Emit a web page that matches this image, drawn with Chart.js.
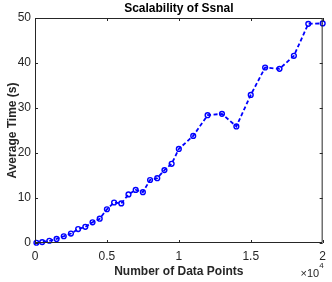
<!DOCTYPE html>
<html>
<head>
<meta charset="utf-8">
<script src="https://cdn.jsdelivr.net/npm/chart.js@4"></script>
<style>
  html, body { margin: 0; padding: 0; background: #fff; }
  #wrap { width: 332px; height: 282px; }
</style>
</head>
<body>
<div id="wrap"><canvas id="myChart" width="332" height="282"></canvas></div>
<script>
// data
const dataPoints = [100, 500, 1000, 1500, 2000, 2500, 3000, 3500, 4000, 4500, 5000,
  5500, 6000, 6500, 7000, 7500, 8000, 8500, 9000, 9500, 10000,
  11000, 12000, 13000, 14000, 15000, 16000, 17000, 18000, 19000, 20000];
const avgTime = [0.05, 0.2, 0.5, 0.9, 1.5, 2.1, 3.1, 3.6, 4.6, 5.4, 7.5,
  9.0, 8.8, 10.8, 11.8, 11.3, 14.0, 14.4, 16.2, 17.6, 20.9,
  23.8, 28.4, 28.7, 25.9, 32.9, 39.0, 38.7, 41.6, 48.7, 48.8];
const xTicks = [0, 5000, 10000, 15000, 20000];
const yTicks = [0, 10, 20, 30, 40, 50];

const axisColor = '#262626';
const fontFamily = '"Liberation Sans", Arial, sans-serif';

// matlab style box: inward ticks on all four sides + x10^4 note
const boxPlugin = {
  id: 'box',
  afterDraw(chart) {
    const ctx = chart.ctx;
    const a = chart.chartArea;
    const xs = chart.scales.x, ys = chart.scales.y;
    const len = 3;
    ctx.save();
    ctx.strokeStyle = axisColor;
    ctx.lineWidth = 1;
    ctx.beginPath();
    ctx.rect(a.left + 0.5, a.top + 0.5, a.right - a.left - 1, a.bottom - a.top - 1);
    xTicks.forEach(function (v) {
      let px = Math.round(xs.getPixelForValue(v)) + 0.5;
      ctx.moveTo(px, a.bottom); ctx.lineTo(px, a.bottom - len);
      ctx.moveTo(px, a.top); ctx.lineTo(px, a.top + len);
    });
    yTicks.forEach(function (v) {
      let py = Math.round(ys.getPixelForValue(v)) + 0.5;
      ctx.moveTo(a.left, py); ctx.lineTo(a.left + len, py);
      ctx.moveTo(a.right, py); ctx.lineTo(a.right - len, py);
    });
    ctx.stroke();

    ctx.fillStyle = axisColor;
    ctx.textBaseline = 'alphabetic';
    ctx.textAlign = 'right';
    ctx.font = '8px ' + fontFamily;
    ctx.fillText('4', a.right + 1, 268);
    let w4 = ctx.measureText('4').width;
    ctx.font = '11px ' + fontFamily;
    ctx.fillText('\u00d710', a.right + 1 - w4, 277);
    ctx.restore();
  }
};

const ctx = document.getElementById('myChart');

new Chart(ctx, {
  type: 'line',
  data: {
    datasets: [{
      data: dataPoints.map(function (x, i) { return { x: x, y: avgTime[i] }; }),
      borderColor: '#0000ff',
      borderWidth: 1.8,
      borderDash: [4, 2.5],
      pointRadius: 2.4,
      pointBorderWidth: 1.4,
      pointBorderColor: '#0000ff',
      pointBackgroundColor: 'rgba(0,0,0,0)',
      tension: 0,
      clip: false
    }]
  },
  options: {
    responsive: false,
    animation: false,
    layout: { padding: { left: 0, right: 3, top: 0, bottom: 0 } },
    plugins: {
      legend: { display: false },
      tooltip: { enabled: false },
      title: {
        display: true,
        fullSize: false,
        text: 'Scalability of Ssnal',
        color: '#000',
        font: { family: fontFamily, size: 12, weight: 'bold', lineHeight: 1.2 },
        padding: { top: 1, bottom: 2.6 }
      }
    },
    scales: {
      x: {
        type: 'linear',
        min: 0,
        max: 20000,
        afterFit: function (scale) { scale.height = 39; },
        afterBuildTicks: function (scale) {
          scale.ticks = xTicks.map(function (v) { return { value: v }; });
        },
        grid: { display: false, drawTicks: false },
        border: { display: false },
        ticks: {
          color: axisColor,
          padding: 6,
          maxRotation: 0,
          font: { family: fontFamily, size: 12 },
          callback: function (v) { return v / 10000; }
        },
        title: {
          display: true,
          text: 'Number of Data Points',
          color: axisColor,
          font: { family: fontFamily, size: 12, weight: 'bold', lineHeight: 1.2 },
          padding: { top: 0, bottom: 2.8 }
        }
      },
      y: {
        min: 0,
        max: 50,
        afterFit: function (scale) { scale.width = 35; },
        afterBuildTicks: function (scale) {
          scale.ticks = yTicks.map(function (v) { return { value: v }; });
        },
        grid: { display: false, drawTicks: false },
        border: { display: false },
        ticks: {
          color: axisColor,
          padding: 4,
          font: { family: fontFamily, size: 12 }
        },
        title: {
          display: true,
          text: 'Average Time (s)',
          color: axisColor,
          font: { family: fontFamily, size: 12, weight: 'bold', lineHeight: 1.2 },
          padding: { top: 5.3, bottom: 0 }
        }
      }
    }
  },
  plugins: [boxPlugin]
});
</script>
</body>
</html>
